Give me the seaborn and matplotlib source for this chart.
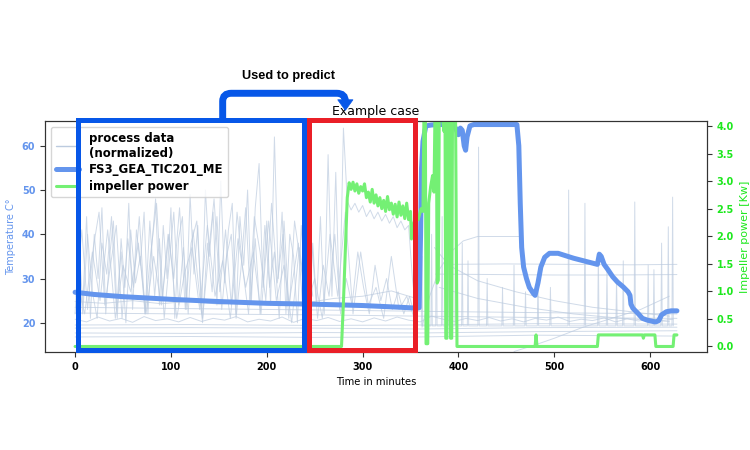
import numpy as np
import pandas as pd
import matplotlib
matplotlib.use("Agg")
import matplotlib.pyplot as plt
import seaborn as sns
from matplotlib.lines import Line2D
from matplotlib.patches import Rectangle, PathPatch, Polygon
from matplotlib.path import Path

# ---------------- data ----------------
# Main temperature sensor FS3_GEA_TIC201_ME (left axis, deg C)
temp_t = [0, 20, 50, 100, 150, 200, 250, 300, 340, 357, 359, 360.5, 361.5, 363, 366, 372, 380, 395, 398, 400,
          402, 404, 406, 407.5, 409, 412, 416, 440, 461, 463, 464.5, 466, 468, 471, 474, 478, 480, 483, 486, 490,
          495, 504, 520, 545, 547, 549, 552, 556, 561, 566, 572, 577, 579, 580, 582, 587, 592, 597, 603, 606,
          609, 612, 617, 622, 628]
temp_v = [26.9, 26.4, 25.9, 25.3, 24.8, 24.4, 24.2, 23.9, 23.5, 23.3, 23.4, 40, 55, 61, 64.5, 64.7, 64.8, 64.8, 63.5, 62.5,
          64.0, 63.5, 60.0, 59.0, 62.0, 64.5, 64.8, 64.8, 64.8, 60, 47, 37, 32.6, 30, 28, 26.7, 26.2, 29, 32.6, 34.8,
          35.7, 35.7, 34.6, 33.2, 35.5, 35, 33.2, 32, 30.4, 29.2, 28.1, 27, 26.2, 24.2, 23.3, 22.2, 21, 20.6, 20.3, 20.2,
          20.5, 21.8, 22.5, 22.7, 22.7]

# Impeller power (right axis, kW)
pow_t = [0, 278, 280, 284, 286, 288, 290, 292, 294, 296, 298, 300, 302, 304, 306, 308, 310, 312, 314, 316,
         318, 320, 322, 324, 326, 328, 330, 332, 334, 336, 338, 340, 342, 344, 346, 348, 350, 351, 353, 356,
         358, 361, 363, 364, 365.5, 366.2, 368, 369, 371, 373, 374.5, 375.5, 377, 377.8, 379, 380, 383, 385, 386, 386.8,
         388, 388.8, 391, 391.8, 393, 393.8, 397, 398.5, 480, 481, 482, 545, 546, 592, 593, 594, 605, 606, 624, 625,
         628]
pow_v = [0, 0, 0.8, 2.7, 2.97, 2.85, 2.98, 2.82, 2.95, 2.78, 2.9, 2.82, 2.95, 2.7, 2.8, 2.62, 2.85, 2.6, 2.75, 2.55,
         2.7, 2.5, 2.65, 2.45, 2.72, 2.48, 2.6, 2.4, 2.58, 2.35, 2.62, 2.38, 2.55, 2.32, 2.6, 2.3, 2.45, 1.95, 2.2, 2.4,
         2.3, 2.5, 2.45, 4.2, 4.2, 0.05, 0.05, 2.6, 2.9, 3.1, 2.8, 4.2, 4.2, 1.15, 1.2, 4.2, 4.2, 3.9, 4.2, 0.15,
         0.15, 4.2, 4.2, 0.15, 0.15, 4.2, 4.2, 0.0, 0.0, 0.21, 0.0, 0.0, 0.21, 0.21, 0.15, 0.21, 0.21, 0.0, 0.0, 0.21,
         0.21]

# Background process data (normalized onto temperature scale)
noisy_a_t = np.arange(0, 360, 4)
noisy_a_v = [22, 38, 24, 44, 21, 40, 30, 46, 22, 35,
             43, 21, 39, 28, 47, 23, 41, 33, 45, 22,
             37, 48, 24, 42, 30, 46, 21, 39, 44, 23,
             49, 31, 42, 22, 50, 35, 45, 24, 52, 29,
             41, 47, 22, 44, 33, 50, 25, 46, 56, 28,
             43, 24, 62, 30, 45, 22, 40, 35, 20, 42,
             30, 21, 38, 24, 44, 22, 58, 26, 54, 23,
             64, 47.5, 45.5, 47, 45, 46.5, 44, 45.5, 43.5, 45,
             43, 44.5, 42.5, 44, 41.5, 43, 41, 42, 30, 22]
noisy_b_t = np.arange(2, 358, 8)
noisy_b_v = [30, 22, 36, 25, 41, 21, 33, 27, 38, 22,
             35, 24, 40, 21, 31, 37, 23, 42, 26, 34,
             21, 39, 28, 36, 22, 43, 25, 33, 20, 37,
             24, 30, 21, 40, 26, 45, 22, 36, 24, 28,
             21, 35, 23, 26, 21]
noisy_c_t = np.arange(1, 357, 6)
noisy_c_v = [26, 41, 23, 37, 45, 24, 33, 42, 21, 39,
             28, 44, 22, 36, 47, 25, 40, 30, 46, 23,
             38, 43, 21, 35, 48, 27, 41, 24, 45, 32,
             22, 44, 36, 25, 47, 29, 40, 21, 43, 34,
             24, 38, 21, 33, 26, 40, 22, 30, 24, 36,
             28, 22, 33, 25, 30, 23, 27, 22, 26, 21]
noisy_d_t = np.arange(3, 250, 5)
noisy_d_v = [34, 22, 40, 27, 21, 38, 31, 44, 23, 36,
             20, 41, 29, 35, 22, 43, 26, 39, 21, 33,
             45, 24, 37, 22, 41, 30, 20, 38, 27, 44,
             23, 35, 40, 21, 32, 46, 25, 39, 22, 42,
             28, 36, 21, 43, 24, 31, 38, 22, 35, 26]
wavy_t = np.arange(0, 628, 12)
wavy_v = [20.8, 20.2, 21.3, 20.4, 21.0, 20.1, 21.4, 20.5, 20.9, 20.2,
          21.2, 20.3, 21.0, 20.6, 21.4, 20.2, 20.8, 20.4, 21.3, 20.1,
          21.0, 20.5, 21.2, 20.3, 20.9, 20.2, 21.1, 20.4, 21.3, 20.6,
          20.2, 21.5, 20.8, 20.3, 21.0, 20.5, 21.2, 20.4, 20.9, 20.2,
          21.0, 20.6, 21.3, 20.3, 20.8, 20.5, 21.1, 20.2, 20.9, 20.4,
          21.0, 20.5, 20.8]
flat_t = [0, 120, 250, 360, 480, 628]
flat_1 = [16.8, 16.9, 16.7, 16.8, 17.2, 17.0]
flat_2 = [17.7, 17.6, 17.8, 17.7, 18.0, 18.2]
flat_3 = [18.8, 18.9, 18.8, 18.6, 18.9, 19.0]
flat_4 = [19.5, 19.6, 19.4, 19.5, 19.8, 19.7]
flat_5 = [22.2, 22.0, 21.8, 21.5, 21.2, 21.0]
flat_6 = [23.5, 23.2, 22.9, 22.6, 22.3, 22.0]
band_t = [0, 30, 60, 90, 120, 150, 180, 210, 240, 270, 300, 330, 356]
band_v = [24.8, 24.4, 25.0, 24.3, 24.9, 24.2, 24.7, 24.0, 24.5, 25.5, 26.0, 27.2, 25.5]
rise_t = [362, 370, 380, 392, 405, 420, 440, 465]
rise_v = [19, 26, 32, 36, 38.5, 39.5, 39.5, 39.5]
level_hi_t = [387, 450, 520, 580, 628]
level_hi_v = [33.2, 33.3, 33.2, 33.1, 33.2]
level_lo_t = [376, 440, 500, 560, 628]
level_lo_v = [31.0, 30.9, 30.8, 30.8, 30.9]
decay_1_t = [375, 390, 420, 460, 500, 540, 580, 620]
decay_1_v = [37, 33, 29.5, 27, 25, 23.5, 22.5, 21.5]
decay_2_t = [380, 420, 470, 520, 570, 620]
decay_2_v = [28, 25.5, 23.5, 22, 21, 20.3]
grow_t = [458, 480, 500, 530, 560, 590, 620]
grow_v = [13.5, 15.0, 16.5, 19, 21, 23, 26]
spike_centers = [362, 366, 372, 377, 383, 390, 397, 404, 410, 421, 430, 446, 458, 470, 483, 496, 515, 532,
                 546, 555, 565, 572, 584, 598, 604, 612, 619, 623.5]
spike_peaks = [35, 45, 40, 50, 44, 52, 56, 38, 34, 59.7, 30, 28, 33, 27, 30, 28, 50, 47,
               36, 32, 30, 34, 47.3, 33, 32, 38, 41.7, 48.4]
spike_base = 19.3

# Annotation windows (minutes)
predict_window = [3, 239]
example_window = [244, 355]

# ---------------- build long table ----------------
spike_t, spike_v = [], []
for c, p in zip(spike_centers, spike_peaks):
    spike_t += [c - 0.7, c, c + 0.7]
    spike_v += [spike_base, p, spike_base]

series = {
    "noisy_a": (noisy_a_t, noisy_a_v), "noisy_b": (noisy_b_t, noisy_b_v),
    "noisy_c": (noisy_c_t, noisy_c_v), "noisy_d": (noisy_d_t, noisy_d_v),
    "wavy": (wavy_t, wavy_v),
    "flat_1": (flat_t, flat_1), "flat_2": (flat_t, flat_2), "flat_3": (flat_t, flat_3),
    "flat_4": (flat_t, flat_4), "flat_5": (flat_t, flat_5), "flat_6": (flat_t, flat_6),
    "band": (band_t, band_v), "rise": (rise_t, rise_v),
    "level_hi": (level_hi_t, level_hi_v), "level_lo": (level_lo_t, level_lo_v),
    "decay_1": (decay_1_t, decay_1_v), "decay_2": (decay_2_t, decay_2_v),
    "grow": (grow_t, grow_v), "spikes": (spike_t, spike_v),
}
proc_df = pd.concat([pd.DataFrame({"t": list(t), "v": list(v), "series": k}) for k, (t, v) in series.items()],
                    ignore_index=True)

# ---------------- plot ----------------
sns.set_style("ticks")
plt.rcParams['font.family'] = ['DejaVu Sans']
plt.rcParams['text.color'] = 'black'
plt.rcParams['axes.labelcolor'] = 'black'
plt.rcParams['xtick.color'] = '#333333'
plt.rcParams['ytick.color'] = '#333333'
plt.rcParams['axes.edgecolor'] = '#333333'

TEMP_C = "#6495ED"
POW_C = "#74f074"
PROC_C = "#bccbdf"
TICK_G = "#1ee81e"
BOX_BLUE = "#0757e8"
BOX_RED = "#ea1f27"

fig = plt.figure(figsize=(7.5, 4.5), dpi=100)
ax = fig.add_axes([0.06, 0.2178, 0.8827, 0.5133])
ax2 = ax.twinx()

sns.lineplot(data=proc_df, x="t", y="v", units="series", estimator=None, color=PROC_C,
             lw=0.7, alpha=0.7, ax=ax, legend=False)
sns.lineplot(x=temp_t, y=temp_v, color=TEMP_C, lw=3.6, ax=ax, legend=False)
sns.lineplot(x=pow_t, y=pow_v, color=POW_C, lw=2.2, ax=ax2, legend=False)

ax.set_xlim(-31.4, 659.4)
ax.set_ylim(13.4, 65.6)
ax2.set_ylim(-0.1, 4.09)
ax.set_yticks([20, 30, 40, 50, 60])
ax2.set_yticks([0, 0.5, 1.0, 1.5, 2.0, 2.5, 3.0, 3.5, 4.0])
ax2.set_yticklabels([f"{v:.1f}" for v in [0, 0.5, 1.0, 1.5, 2.0, 2.5, 3.0, 3.5, 4.0]])

ax.set_xlabel("Time in minutes", fontsize=7.2, color="black")
ax.set_ylabel("Temperature C°", color=TEMP_C, fontsize=7)
ax2.set_ylabel("Impeller power [Kw]", color=TICK_G, fontsize=8)
ax.set_title("Example case", fontsize=9, pad=4, color="black")

ax.tick_params(axis="x", labelsize=7, labelcolor="black")
ax.tick_params(axis="y", labelsize=7, labelcolor=TEMP_C)
ax2.tick_params(axis="y", labelsize=7, labelcolor=TICK_G)
for lab in ax.get_xticklabels() + ax.get_yticklabels() + ax2.get_yticklabels():
    lab.set_fontweight("bold")

handles = [Line2D([], [], color=PROC_C, lw=1.0),
           Line2D([], [], color=TEMP_C, lw=3.6),
           Line2D([], [], color=POW_C, lw=2.2)]
labels = ["process data\n(normalized)", "FS3_GEA_TIC201_ME", "impeller power"]
leg = ax2.legend(handles, labels, loc="upper left", prop={"weight": "bold", "size": 8.5},
                 handletextpad=0.8, labelspacing=0.3)
for txt in leg.get_texts():
    txt.set_color("black")
leg.set_zorder(5)

# annotation boxes (x in minutes, y in axes fraction)
trans = ax2.get_xaxis_transform()
for (x0, x1), col in [(predict_window, BOX_BLUE), (example_window, BOX_RED)]:
    ax2.add_patch(Rectangle((x0, 0.01), x1 - x0, 0.996, transform=trans, fill=False,
                            ec=col, lw=3.6, clip_on=False, zorder=10, joinstyle="miter"))

xs = (predict_window[0] + predict_window[1]) / 2 + 33
xe = 282
verts = [(xs, 1.006), (xs, 1.085), (xs, 1.12), (xs + 9, 1.12), (xe - 9, 1.12), (xe, 1.12), (xe, 1.085)]
codes = [Path.MOVETO, Path.LINETO, Path.CURVE3, Path.CURVE3, Path.LINETO, Path.CURVE3, Path.CURVE3]
ax2.add_patch(PathPatch(Path(verts, codes), transform=trans, fill=False, ec=BOX_BLUE, lw=5,
                        clip_on=False, zorder=10, capstyle="butt"))
ax2.add_patch(Polygon([(xe - 8, 1.092), (xe + 8, 1.092), (xe, 1.046)], closed=True, transform=trans,
                      fc=BOX_BLUE, ec=BOX_BLUE, lw=0.5, clip_on=False, zorder=10))
ax2.text((xs + xe) / 2 + 5, 1.195, "Used to predict", transform=trans, ha="center", va="center",
         fontsize=9.2, fontweight="bold", color="black", family=["Liberation Sans", "DejaVu Sans"])

fig.savefig("out.png", dpi=100, facecolor="white")
